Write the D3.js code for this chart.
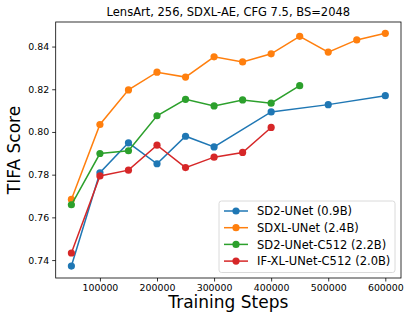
<!DOCTYPE html>
<html><head><meta charset="utf-8">
<script src="https://cdn.jsdelivr.net/npm/d3@7"></script>
<style>body{margin:0;background:#fff}svg{display:block;font-family:"DejaVu Sans",sans-serif}</style>
</head><body><svg id="c" width="411" height="323"></svg>
<script>
const steps = [50000,100000,150000,200000,250000,300000,350000,400000,450000,500000,550000,600000];
const sd2Steps = [50000,100000,150000,200000,250000,300000,400000,500000,600000];
const sd2 = [0.7372,0.7809,0.7949,0.7851,0.7980,0.7930,0.8094,0.8128,0.8170];
const sdxl = [0.7684,0.8035,0.8197,0.8280,0.8257,0.8352,0.8328,0.8366,0.8448,0.8374,0.8431,0.8462];
const c512 = [0.7659,0.7899,0.7912,0.8076,0.8153,0.8122,0.8150,0.8135,0.8217];
const ifxl = [0.7433,0.7794,0.7821,0.7938,0.7833,0.7882,0.7904,0.8021];
const xTicks = [100000,200000,300000,400000,500000,600000];
const yTicks = [0.74,0.76,0.78,0.80,0.82,0.84];
const seriesNames = ["SD2-UNet (0.9B)","SDXL-UNet (2.4B)","SD2-UNet-C512 (2.2B)","IF-XL-UNet-C512 (2.0B)"];
const colors = ["#1f77b4","#ff7f0e","#2ca02c","#d62728"];

const series = [
  {name:seriesNames[0], x:sd2Steps, y:sd2, color:colors[0]},
  {name:seriesNames[1], x:steps, y:sdxl, color:colors[1]},
  {name:seriesNames[2], x:steps.slice(0,c512.length), y:c512, color:colors[2]},
  {name:seriesNames[3], x:steps.slice(0,ifxl.length), y:ifxl, color:colors[3]}
];

const L=55.7, R=401, T=22, B=278;
const x = d3.scaleLinear().domain([22500,627500]).range([L,R]);
const y = d3.scaleLinear().domain([0.7316,0.8515]).range([B,T]);
const svg = d3.select("#c");

const xa = svg.append("g").attr("transform",`translate(0,${B})`)
  .call(d3.axisBottom(x).tickValues(xTicks).tickFormat(d3.format("d")).tickSize(3.5).tickPadding(2.5).tickSizeOuter(0));
const ya = svg.append("g").attr("transform",`translate(${L},0)`)
  .call(d3.axisLeft(y).tickValues(yTicks).tickFormat(d3.format(".2f")).tickSize(3.5).tickPadding(3).tickSizeOuter(0));
[xa,ya].forEach(a=>{
  a.select(".domain").remove();
  a.selectAll("line").attr("stroke","#000").attr("stroke-width",0.8);
  a.selectAll("text").attr("font-size",9.4).attr("fill","#000").attr("font-family","DejaVu Sans");
});

const line = d3.line().x(d=>x(d[0])).y(d=>y(d[1]));
series.forEach(s=>{
  const pts = s.x.map((v,i)=>[v,s.y[i]]);
  svg.append("path").attr("d",line(pts)).attr("fill","none").attr("stroke",s.color).attr("stroke-width",1.5);
  svg.append("g").selectAll("circle").data(pts).join("circle")
    .attr("cx",d=>x(d[0])).attr("cy",d=>y(d[1])).attr("r",3.6).attr("fill",s.color);
});

svg.append("rect").attr("x",L).attr("y",T).attr("width",R-L).attr("height",B-T)
  .attr("fill","none").attr("stroke","#000").attr("stroke-width",0.8);

svg.append("text").attr("x",(L+R)/2).attr("y",15.5).attr("text-anchor","middle")
  .attr("font-size",11.5).text("LensArt, 256, SDXL-AE, CFG 7.5, BS=2048");
svg.append("text").attr("x",(L+R)/2).attr("y",308).attr("text-anchor","middle")
  .attr("font-size",17).text("Training Steps");
svg.append("text").attr("transform",`translate(20,${(T+B)/2}) rotate(-90)`).attr("text-anchor","middle")
  .attr("font-size",17).text("TIFA Score");

const lg = svg.append("g");
lg.append("rect").attr("x",219).attr("y",201).attr("width",176).attr("height",71.5).attr("rx",2.5)
  .attr("fill","#fff").attr("fill-opacity",0.8).attr("stroke","#d0d0d0").attr("stroke-width",0.8);
series.forEach((s,i)=>{
  const yy = 211 + i*16.7;
  lg.append("line").attr("x1",224).attr("x2",248).attr("y1",yy).attr("y2",yy).attr("stroke",s.color).attr("stroke-width",1.5);
  lg.append("circle").attr("cx",236).attr("cy",yy).attr("r",3.6).attr("fill",s.color);
  lg.append("text").attr("x",257).attr("y",yy+4.1).attr("font-size",11.5).text(s.name);
});
</script></body></html>
